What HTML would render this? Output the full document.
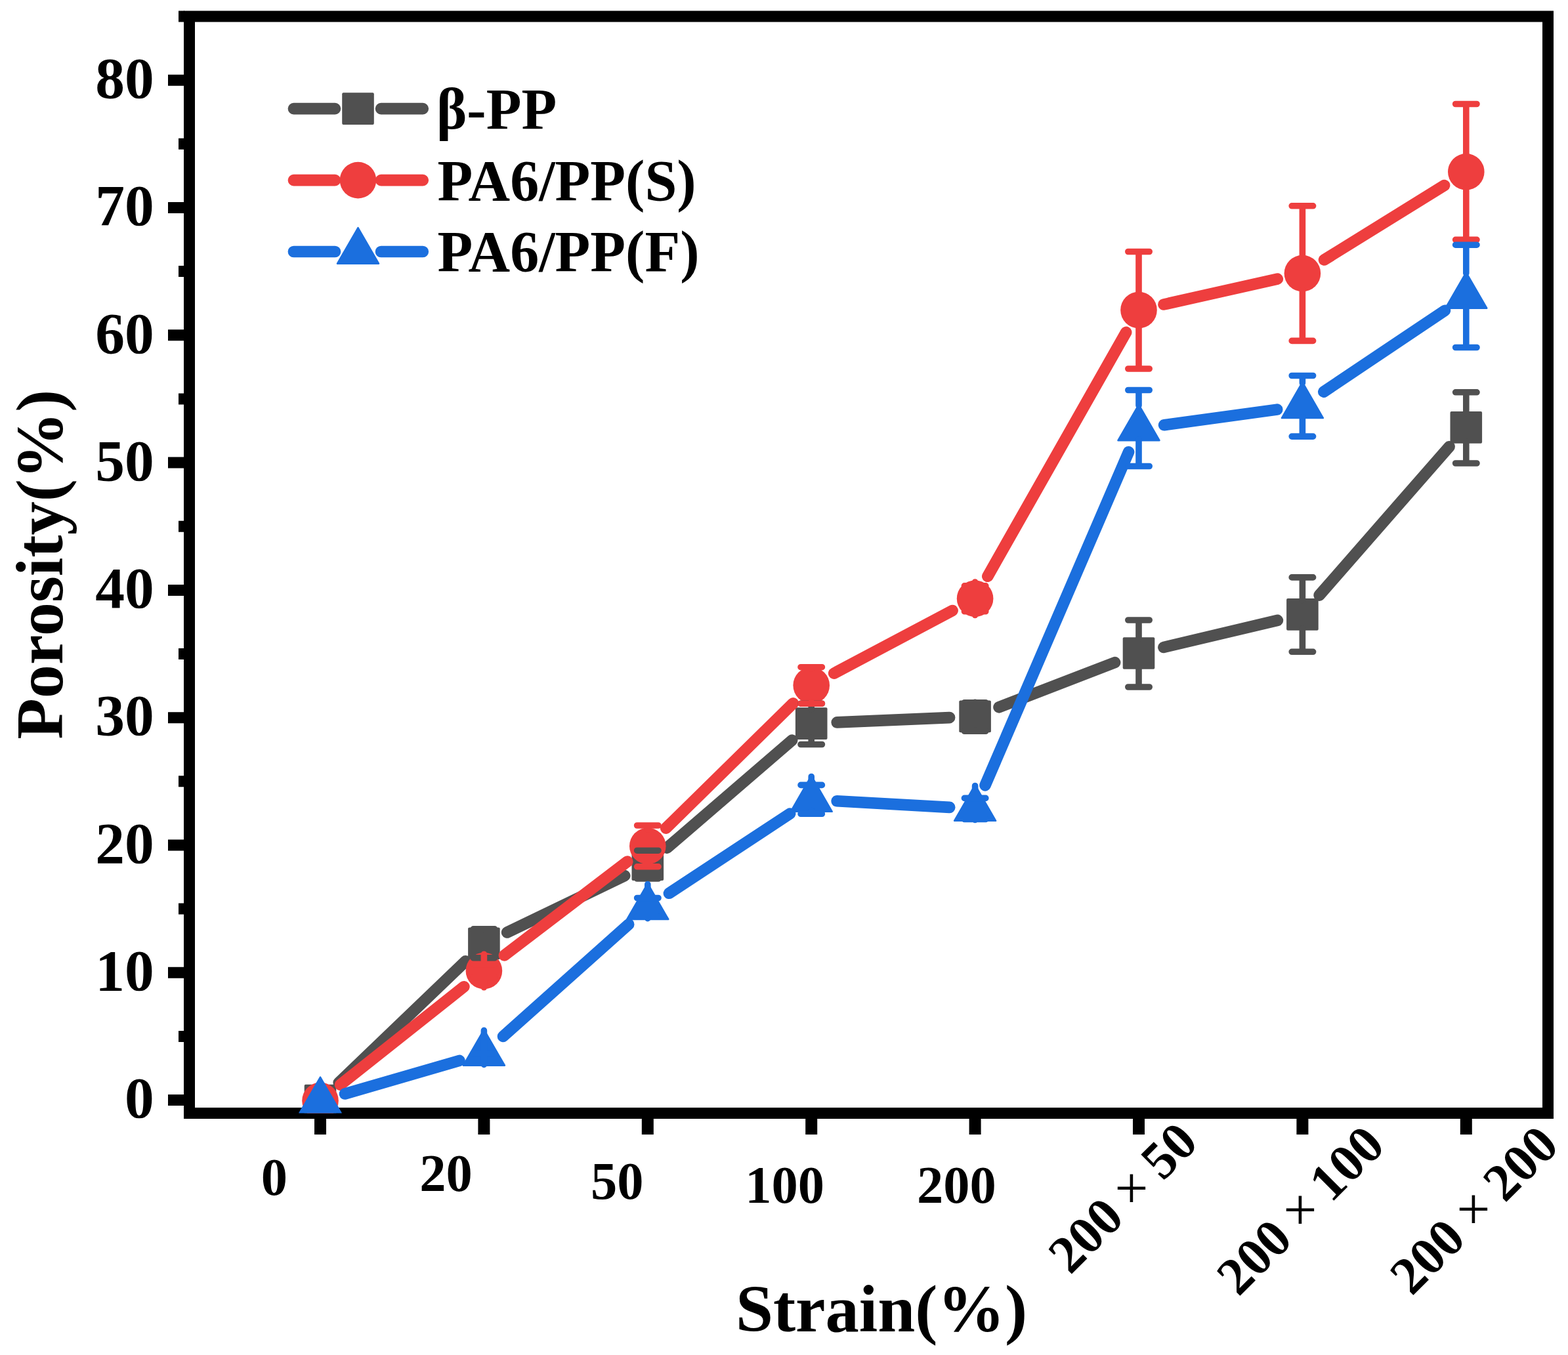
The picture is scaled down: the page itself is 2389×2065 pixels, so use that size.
<!DOCTYPE html>
<html><head><meta charset="utf-8"><title>Porosity vs Strain</title>
<style>html,body{margin:0;padding:0;background:#fff;}svg{display:block;}</style>
</head><body>
<svg width="2389" height="2065" viewBox="0 0 2389 2065" font-family="'Liberation Serif', 'Times New Roman', serif">
<defs><clipPath id="clip"><rect x="288.5" y="25" width="2070" height="1671.5"/></clipPath></defs>
<rect width="2389" height="2065" fill="#fff"/>
<rect x="288.5" y="25" width="2070" height="1671.5" fill="none" stroke="#000" stroke-width="17"/>
<path d="M256 1676.6H281M256 1482.3H281M256 1288H281M256 1093.7H281M256 899.4H281M256 705.1H281M256 510.8H281M256 316.5H281M256 122.2H281M272 1579.4H281M272 1385.1H281M272 1190.8H281M272 996.5H281M272 802.2H281M272 607.9H281M272 413.6H281M272 219.3H281M272 25H281" stroke="#000" stroke-width="17" fill="none"/>
<path d="M488 1697V1729M737.4 1697V1729M986.8 1697V1729M1236.2 1697V1729M1485.6 1697V1729M1735 1697V1729M1984.4 1697V1729M2233.8 1697V1729" stroke="#000" stroke-width="18" fill="none"/>
<g clip-path="url(#clip)">
<path d="M516.2 1650L709.3 1464.9M772.6 1421L951.7 1334.6M1016.3 1292.2L1206.7 1128.1M1275.2 1100.9L1446.6 1093.6M1522 1077.8L1698.6 1009.6M1772.9 986.5L1946.4 945.4M2010.1 907.1L2208.1 680.7" stroke="#505050" stroke-width="17.6" stroke-linecap="round" fill="none"/>
<rect x="463.7" y="1652.7" width="48.6" height="48.6" rx="2" fill="#505050"/>
<rect x="713.1" y="1413.6" width="48.6" height="48.6" rx="2" fill="#505050"/>
<rect x="962.5" y="1293.4" width="48.6" height="48.6" rx="2" fill="#505050"/>
<rect x="1211.9" y="1078.3" width="48.6" height="48.6" rx="2" fill="#505050"/>
<rect x="1461.3" y="1067.6" width="48.6" height="48.6" rx="2" fill="#505050"/>
<rect x="1710.7" y="971.2" width="48.6" height="48.6" rx="2" fill="#505050"/>
<rect x="1960.1" y="912.1" width="48.6" height="48.6" rx="2" fill="#505050"/>
<rect x="2209.5" y="627.1" width="48.6" height="48.6" rx="2" fill="#505050"/>
<path d="M518.6 1653.2L706.9 1503.7M768.4 1455.9L955.8 1313M1014.6 1262.1L1208.4 1071.8M1270.7 1026.2L1451.1 930.5M1504.8 878.3L1715.7 506.4M1773 464L1946.3 425.1M2017.5 396L2200.6 282.5" stroke="#EE3E3E" stroke-width="17.6" stroke-linecap="round" fill="none"/>
<circle cx="488" cy="1677.4" r="27.8" fill="#EE3E3E"/>
<circle cx="737.4" cy="1479.5" r="27.8" fill="#EE3E3E"/>
<circle cx="986.8" cy="1289.4" r="27.8" fill="#EE3E3E"/>
<circle cx="1236.2" cy="1044.5" r="27.8" fill="#EE3E3E"/>
<circle cx="1485.6" cy="912.2" r="27.8" fill="#EE3E3E"/>
<circle cx="1735" cy="472.5" r="27.8" fill="#EE3E3E"/>
<circle cx="1984.4" cy="416.6" r="27.8" fill="#EE3E3E"/>
<circle cx="2233.8" cy="261.9" r="27.8" fill="#EE3E3E"/>
<path d="M525.5 1667L700 1616.4M766.5 1579.5L957.7 1408.7M1019.4 1361.3L1203.6 1240M1275.1 1220.8L1446.7 1230.4M1501 1196.8L1719.6 688.8M1773.6 647.7L1945.7 624.1M2016.8 597.1L2201.4 473.2" stroke="#1B6FDE" stroke-width="17.6" stroke-linecap="round" fill="none"/>
<path d="M488 1641.5L519.5 1696.1L456.5 1696.1Z" fill="#1B6FDE" stroke="#1B6FDE" stroke-width="2.5" stroke-linejoin="round"/>
<path d="M737.4 1569.1L768.9 1623.7L705.9 1623.7Z" fill="#1B6FDE" stroke="#1B6FDE" stroke-width="2.5" stroke-linejoin="round"/>
<path d="M986.8 1346.3L1018.3 1400.9L955.3 1400.9Z" fill="#1B6FDE" stroke="#1B6FDE" stroke-width="2.5" stroke-linejoin="round"/>
<path d="M1236.2 1182.2L1267.7 1236.8L1204.7 1236.8Z" fill="#1B6FDE" stroke="#1B6FDE" stroke-width="2.5" stroke-linejoin="round"/>
<path d="M1485.6 1196.2L1517.1 1250.8L1454.1 1250.8Z" fill="#1B6FDE" stroke="#1B6FDE" stroke-width="2.5" stroke-linejoin="round"/>
<path d="M1735 616.6L1766.5 671.2L1703.5 671.2Z" fill="#1B6FDE" stroke="#1B6FDE" stroke-width="2.5" stroke-linejoin="round"/>
<path d="M1984.4 582.4L2015.9 637L1952.9 637Z" fill="#1B6FDE" stroke="#1B6FDE" stroke-width="2.5" stroke-linejoin="round"/>
<path d="M2233.8 415.1L2265.3 469.7L2202.3 469.7Z" fill="#1B6FDE" stroke="#1B6FDE" stroke-width="2.5" stroke-linejoin="round"/>
<path d="M737.4 1416.4V1415.9M737.4 1459.4V1459.9M721.2 1415.9H753.6M721.2 1459.9H753.6M986.8 1296.2V1296.2M986.8 1339.2V1339M970.6 1296.2H1003M970.6 1339H1003M1236.2 1081.1V1072.2M1236.2 1124.1V1134.5M1220 1072.2H1252.4M1220 1134.5H1252.4M1485.6 1070.4V1070.7M1485.6 1113.4V1114.3M1469.4 1070.7H1501.8M1469.4 1114.3H1501.8M1735 974V945M1735 1017V1047M1718.8 945H1751.2M1718.8 1047H1751.2M1984.4 914.9V879.9M1984.4 957.9V993.3M1968.2 879.9H2000.6M1968.2 993.3H2000.6M2233.8 629.9V597.8M2233.8 672.9V706M2217.6 597.8H2250M2217.6 706H2250" stroke="#505050" stroke-width="9.6" stroke-linecap="round" fill="none"/>
<path d="M737.4 1454.2V1469.5M737.4 1504.8V1489.5M721.2 1469.5H753.6M721.2 1489.5H753.6M986.8 1264.1V1258M986.8 1314.7V1320.8M970.6 1258H1003M970.6 1320.8H1003M1236.2 1019.2V1016.7M1236.2 1069.8V1072.2M1220 1016.7H1252.4M1220 1072.2H1252.4M1485.6 887V892.8M1485.6 937.5V931.8M1469.4 892.8H1501.8M1469.4 931.8H1501.8M1735 447.2V383.5M1735 497.8V562M1718.8 383.5H1751.2M1718.8 562H1751.2M1984.4 391.3V313.8M1984.4 441.9V519.4M1968.2 313.8H2000.6M1968.2 519.4H2000.6M2233.8 236.6V158.5M2233.8 287.2V365.3M2217.6 158.5H2250M2217.6 365.3H2250" stroke="#EE3E3E" stroke-width="9.6" stroke-linecap="round" fill="none"/>
<path d="M737.4 1570.4V1605M737.4 1622.4V1606M721.2 1605H753.6M721.2 1606H753.6M986.8 1347.6V1368.5M986.8 1399.6V1396.7M970.6 1368.5H1003M970.6 1396.7H1003M1236.2 1183.5V1196.4M1236.2 1235.5V1240.3M1220 1196.4H1252.4M1220 1240.3H1252.4M1485.6 1197.5V1216.4M1485.6 1249.5V1248.5M1469.4 1216.4H1501.8M1469.4 1248.5H1501.8M1735 617.9V594.5M1735 669.9V710.5M1718.8 594.5H1751.2M1718.8 710.5H1751.2M1984.4 583.7V572.5M1984.4 635.7V665.1M1968.2 572.5H2000.6M1968.2 665.1H2000.6M2233.8 416.4V373.2M2233.8 468.4V529.5M2217.6 373.2H2250M2217.6 529.5H2250" stroke="#1B6FDE" stroke-width="9.6" stroke-linecap="round" fill="none"/>
</g>
<path d="M447.4 165.6H510.5M580.5 165.6H644.3" stroke="#505050" stroke-width="17.6" stroke-linecap="round"/>
<rect x="521.2" y="141.3" width="48.6" height="48.6" rx="2" fill="#505050"/>
<path d="M447.4 274.6H510.5M580.5 274.6H644.3" stroke="#EE3E3E" stroke-width="17.6" stroke-linecap="round"/>
<circle cx="545.5" cy="274.6" r="27.8" fill="#EE3E3E"/>
<path d="M447.4 383.5H510.5M580.5 383.5H644.3" stroke="#1B6FDE" stroke-width="17.6" stroke-linecap="round"/>
<path d="M545.5 347.1L577 401.7L514 401.7Z" fill="#1B6FDE" stroke="#1B6FDE" stroke-width="2.5" stroke-linejoin="round"/>
<g font-size="88" font-weight="bold">
<text x="665" y="195.8">β-PP</text>
<text x="666.4" y="305.1">PA6/PP(S)</text>
<text x="666.4" y="413.4">PA6/PP(F)</text>
</g>
<g font-size="89.5" font-weight="bold" text-anchor="end">
<text x="234.7" y="1703.3">0</text>
<text x="234.7" y="1509">10</text>
<text x="234.7" y="1314.7">20</text>
<text x="234.7" y="1120.4">30</text>
<text x="234.7" y="926.1">40</text>
<text x="234.7" y="731.8">50</text>
<text x="234.7" y="537.5">60</text>
<text x="234.7" y="343.2">70</text>
<text x="234.7" y="148.9">80</text>
</g>
<g font-size="80.5" font-weight="bold">
<text x="397.8" y="1820.6">0</text>
<text x="639.3" y="1815.4">20</text>
<text x="900" y="1826.9">50</text>
<text x="1135.2" y="1833.1">100</text>
<text x="1397" y="1833">200</text>
<text transform="translate(1654.6 1882.9) rotate(-45)" x="0" y="26.2" text-anchor="middle">200</text>
<text x="1724.0" y="1840.8" text-anchor="middle" font-weight="normal" font-size="91">+</text>
<text transform="translate(1781.5 1754.0) rotate(-45)" x="0" y="26.2" text-anchor="middle">50</text>
<text transform="translate(1911.1 1916.0) rotate(-45)" x="0" y="26.2" text-anchor="middle">200</text>
<text x="1981.0" y="1873.8" text-anchor="middle" font-weight="normal" font-size="91">+</text>
<text transform="translate(2052.0 1773.1) rotate(-45)" x="0" y="26.2" text-anchor="middle">100</text>
<text transform="translate(2175.1 1915.1) rotate(-45)" x="0" y="26.2" text-anchor="middle">200</text>
<text x="2245.0" y="1873.1" text-anchor="middle" font-weight="normal" font-size="91">+</text>
<text transform="translate(2317.0 1773.1) rotate(-45)" x="0" y="26.2" text-anchor="middle">200</text>
</g>
<g font-size="102.5" font-weight="bold">
<text x="1120.9" y="2028.5">Strain(%)</text>
<text transform="translate(94.5 1126.8) rotate(-90)">Porosity(%)</text>
</g>
</svg>
</body></html>
